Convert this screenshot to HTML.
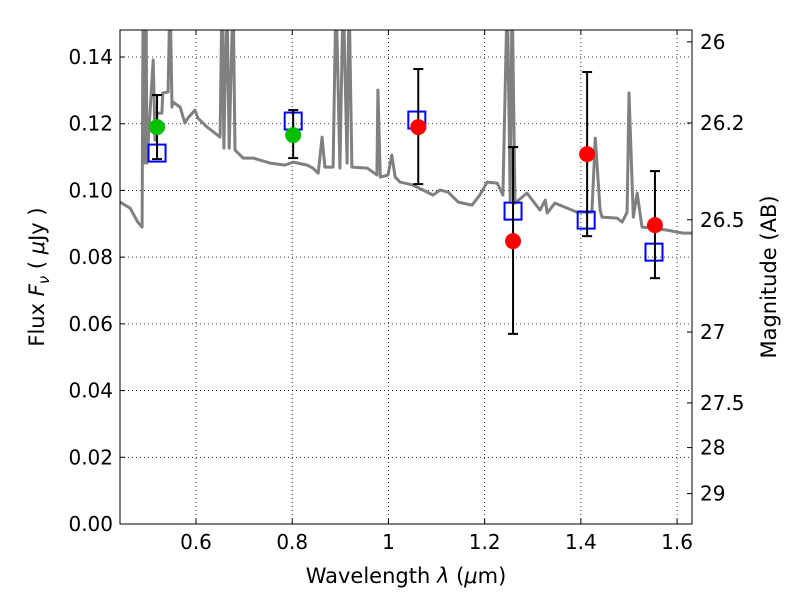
<!DOCTYPE html>
<html><head><meta charset="utf-8"><style>
body{margin:0;background:#fff;}
svg text{font-family:"DejaVu Sans","Liberation Sans",sans-serif;fill:#000;}
</style></head><body>
<svg id="chart" width="800" height="600" xmlns="http://www.w3.org/2000/svg">
<defs><clipPath id="clip"><rect x="120" y="30" width="572" height="494"/></clipPath></defs>
<g id="grid"></g>
<g id="spec" clip-path="url(#clip)"></g>
<g id="marks"></g>
<rect x="120" y="30" width="572" height="494" fill="none" stroke="#000" stroke-width="1"/>
<g id="axes"></g>
<text x="406" y="583" font-size="21" text-anchor="middle">Wavelength  <tspan font-style="italic">λ</tspan> (<tspan font-style="italic">μ</tspan>m)</text>
<text transform="translate(44,277) rotate(-90)" font-size="21" text-anchor="middle">Flux  <tspan font-style="italic">F</tspan><tspan font-style="italic" font-size="15" dy="5">ν</tspan><tspan dy="-5">  ( </tspan><tspan font-style="italic">μ</tspan>Jy )</text>
<text transform="translate(776,277) rotate(-90)" font-size="21" text-anchor="middle">Magnitude (AB)</text>
</svg>
<script>
const specWave=[0.442,0.463,0.479,0.488,0.490,0.492,0.496,0.498,0.511,0.515,0.519,0.529,0.531,0.542,0.546,0.550,0.552,0.567,0.577,0.583,0.598,0.604,0.623,0.650,0.654,0.658,0.664,0.669,0.677,0.681,0.698,0.719,0.754,0.785,0.802,0.831,0.843,0.854,0.862,0.868,0.885,0.891,0.899,0.906,0.914,0.918,0.924,0.956,0.976,0.978,0.983,0.999,1.007,1.014,1.024,1.051,1.093,1.107,1.124,1.145,1.174,1.190,1.205,1.226,1.238,1.247,1.253,1.257,1.263,1.288,1.315,1.326,1.330,1.346,1.392,1.423,1.430,1.440,1.444,1.475,1.486,1.496,1.500,1.509,1.517,1.527,1.550,1.579,1.612,1.631];
const specFlux=[0.0965,0.0947,0.0905,0.0890,0.16,0.1082,0.16,0.1082,0.1391,0.1151,0.1232,0.1232,0.1292,0.1295,0.16,0.1250,0.1265,0.1250,0.1202,0.1217,0.1241,0.1217,0.1190,0.1160,0.16,0.1127,0.16,0.1127,0.16,0.1121,0.1097,0.1097,0.1082,0.1076,0.1085,0.1076,0.1067,0.1052,0.1160,0.1070,0.1070,0.16,0.1067,0.16,0.1082,0.16,0.1070,0.1067,0.1046,0.1301,0.1040,0.1046,0.1106,0.1040,0.1025,0.1016,0.0986,0.1001,0.0995,0.0965,0.0956,0.0986,0.1025,0.1022,0.0986,0.16,0.0971,0.16,0.0962,0.0992,0.0941,0.0971,0.0932,0.0962,0.0935,0.0935,0.1157,0.0941,0.0920,0.0917,0.0905,0.0935,0.1292,0.0920,0.0992,0.0890,0.0887,0.0881,0.0872,0.0872];
const greenWave=[0.519,0.802];
const greenFlux=[0.119,0.1166];
const greenErrHi=[0.1286,0.1241];
const greenErrLo=[0.1094,0.1097];
const redWave=[1.062,1.259,1.413,1.554];
const redFlux=[0.119,0.0848,0.1109,0.0896];
const redErrHi=[0.1364,0.113,0.1355,0.1058];
const redErrLo=[0.1019,0.057,0.0863,0.0737];
const modelWave=[0.519,0.802,1.059,1.259,1.411,1.552];
const modelFlux=[0.1112,0.1208,0.1211,0.0938,0.0911,0.0815];
const xTicks=[0.6,0.8,1.0,1.2,1.4,1.6];
const xTickLabels=["0.6","0.8","1","1.2","1.4","1.6"];
const yTicks=[0,0.02,0.04,0.06,0.08,0.10,0.12,0.14];
const yTickLabels=["0.00","0.02","0.04","0.06","0.08","0.10","0.12","0.14"];
const magTicks=[26,26.2,26.5,27,27.5,28,29];
const magTickLabels=["26","26.2","26.5","27","27.5","28","29"];

const X0=120,X1=692,Y0=524,Y1=30,xmin=0.442,xmax=1.631,ymin=0,ymax=0.1481;
const sx=v=>X0+(v-xmin)/(xmax-xmin)*(X1-X0);
const sy=v=>Y0-(v-ymin)/(ymax-ymin)*(Y0-Y1);
const magToFlux=m=>Math.pow(10,(23.9-m)/2.5);
const NS="http://www.w3.org/2000/svg";
function mk(tag,attrs,parent){const e=document.createElementNS(NS,tag);for(const k in attrs)e.setAttribute(k,attrs[k]);parent.appendChild(e);return e;}
const grid=document.getElementById('grid'),axes=document.getElementById('axes'),spec=document.getElementById('spec'),marks=document.getElementById('marks');

xTicks.forEach((t,i)=>{const x=sx(t);
 const g=mk('line',{x1:x,x2:x,y1:Y1,y2:Y0,stroke:'#000','stroke-width':0.8,'stroke-dasharray':'1,3'},grid);
 
 mk('line',{x1:x,x2:x,y1:Y0,y2:Y0-5,stroke:'#000'},axes);
 mk('line',{x1:x,x2:x,y1:Y1,y2:Y1+5,stroke:'#000'},axes);
 const tx=mk('text',{x:x,y:Y0+25,'font-size':20,'text-anchor':'middle'},axes);tx.textContent=xTickLabels[i];
 
});
yTicks.forEach((t,i)=>{const y=sy(t);
 if(t>0){const g=mk('line',{x1:X0,x2:X1,y1:y,y2:y,stroke:'#000','stroke-width':0.8,'stroke-dasharray':'1,3'},grid);
 }
 mk('line',{x1:X0,x2:X0+5,y1:y,y2:y,stroke:'#000'},axes);
 const tx=mk('text',{x:X0-7,y:y+7,'font-size':20,'text-anchor':'end'},axes);tx.textContent=yTickLabels[i];
 
});
magTicks.forEach((m,i)=>{const y=sy(magToFlux(m));
 mk('line',{x1:X1-5,x2:X1,y1:y,y2:y,stroke:'#000'},axes);
 const tx=mk('text',{x:X1+8,y:y+7,'font-size':20},axes);tx.textContent=magTickLabels[i];
 
});
const pts=specWave.map((w,i)=>sx(w).toFixed(1)+','+sy(specFlux[i]).toFixed(1)).join(' ');
const pl=mk('polyline',{points:pts,fill:'none',stroke:'#808080','stroke-width':3,'stroke-linejoin':'round'},spec);


function errbar(w,lo,hi){const x=sx(w);
 const g=mk('g',{},marks);
 
 mk('line',{x1:x,x2:x,y1:sy(lo),y2:sy(hi),stroke:'#000','stroke-width':2},g);
 mk('line',{x1:x-5,x2:x+5,y1:sy(lo),y2:sy(lo),stroke:'#000','stroke-width':2},g);
 mk('line',{x1:x-5,x2:x+5,y1:sy(hi),y2:sy(hi),stroke:'#000','stroke-width':2},g);}
modelWave.forEach((w,i)=>{const x=sx(w),y=sy(modelFlux[i]);
 const r=mk('rect',{x:x-8.5,y:y-8.5,width:17,height:17,fill:'none',stroke:'#0000ff','stroke-width':2},marks);
 });
greenWave.forEach((w,i)=>{errbar(w,greenErrLo[i],greenErrHi[i]);
 const c=mk('circle',{cx:sx(w),cy:sy(greenFlux[i]),r:8,fill:'#00c000'},marks);
 });
redWave.forEach((w,i)=>{errbar(w,redErrLo[i],redErrHi[i]);
 const c=mk('circle',{cx:sx(w),cy:sy(redFlux[i]),r:8,fill:'#ff0000'},marks);
 });
</script>
</body></html>
